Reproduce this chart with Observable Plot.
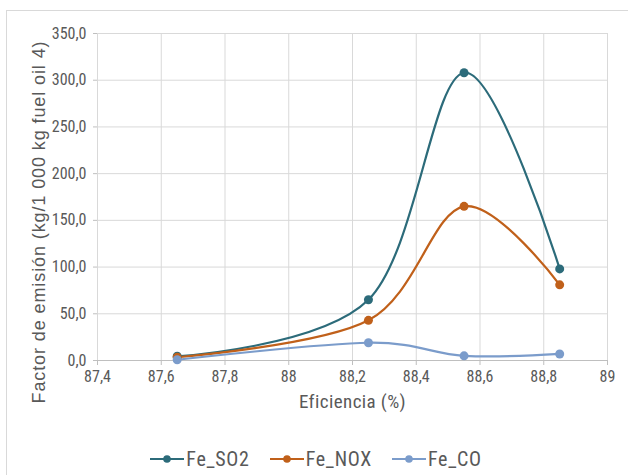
<!DOCTYPE html>
<html><head><meta charset="utf-8">
<script src="https://cdn.jsdelivr.net/npm/d3@7"></script>
<script src="https://cdn.jsdelivr.net/npm/@observablehq/plot@0.6"></script>
<style>
body{margin:0;background:#fff;overflow:hidden;width:628px;height:475px;position:relative;}
#frame{position:absolute;left:6px;top:10px;width:700px;height:600px;border:1px solid #d9d9d9;box-sizing:border-box;}
#chart{position:absolute;left:0;top:0;}
#legend{position:absolute;top:447px;left:2px;width:628px;display:flex;justify-content:center;gap:20px;
  font-family:"Liberation Sans Narrow","Roboto Condensed","Arial Narrow",Roboto,sans-serif;font-size:20px;letter-spacing:0.7px;color:#595959;}
.item{display:flex;align-items:center;gap:2px;}
</style></head>
<body>
<div id="frame"></div>
<div id="chart"></div>
<div id="legend"></div>
<script>
const eficiencia = [87.65, 88.25, 88.55, 88.85];
const feSO2 = [4.5, 65, 308, 98];
const feNOX = [3.5, 43, 165, 81];
const feCO  = [0.8, 19, 5, 7];
const seriesNames = ["Fe_SO2", "Fe_NOX", "Fe_CO"];
const seriesColors = ["#2c6b7a", "#c0601a", "#7b9ccb"];
const xTicks = [87.4, 87.6, 87.8, 88, 88.2, 88.4, 88.6, 88.8, 89];
const yTicks = [0, 50, 100, 150, 200, 250, 300, 350];
const yLabel = "Factor de emisión (kg/1 000 kg fuel oil 4)";
const xLabel = "Eficiencia (%)";

const seriesValues = [feSO2, feNOX, feCO];
const data = [];
seriesNames.forEach((s, i) => eficiencia.forEach((x, j) => data.push({series: s, x, y: seriesValues[i][j]})));

const narrow = '"Liberation Sans Narrow","Roboto Condensed","Arial Narrow",Roboto,sans-serif';

const chart = Plot.plot({
  width: 628, height: 425,
  marginLeft: 97, marginRight: 21, marginTop: 33, marginBottom: 65,
  style: {fontFamily: narrow, fontSize: "16px", color: "#595959", background: "transparent"},
  x: {domain: [87.4, 89]},
  y: {domain: [0, 350]},
  color: {domain: seriesNames, range: seriesColors},
  marks: [
    Plot.gridX(xTicks, {stroke: "#d9d9d9", strokeOpacity: 1}),
    Plot.gridY(yTicks, {stroke: "#d9d9d9", strokeOpacity: 1}),
    Plot.ruleY([0], {stroke: "#bfbfbf"}),
    Plot.axisX({ticks: xTicks, tickSize: 5, tickPadding: 5, stroke: "#bfbfbf",
      tickFormat: d => String(+d.toFixed(1)).replace(".", ","), label: null}),
    Plot.axisY({ticks: yTicks, tickSize: 4, tickPadding: 7, stroke: "#bfbfbf",
      tickFormat: d => d.toFixed(1).replace(".", ","), label: null}),
    Plot.text([xLabel], {frameAnchor: "bottom", dy: 47, fontSize: 19, fill: "#595959"}),
    Plot.text([yLabel], {frameAnchor: "left", textAnchor: "middle", rotate: -90, dx: -58, dy: 25, fontSize: 18,
      fontFamily: '"Liberation Sans",Arial,sans-serif', fill: "#595959"}),
    Plot.line(data, {x: "x", y: "y", stroke: "series", z: "series", curve: "cardinal", tension: 0, strokeWidth: 2.2}),
    Plot.dot(data, {x: "x", y: "y", fill: "series", r: 4.5})
  ]
});
chart.querySelectorAll("text").forEach(t => {
  if (t.textContent === yLabel) t.style.letterSpacing = "0.9px";
  if (t.textContent === xLabel) t.style.letterSpacing = "0.4px";
});
document.getElementById("chart").appendChild(chart);

const legend = document.getElementById("legend");
seriesNames.forEach((s, i) => {
  const item = document.createElement("div");
  item.className = "item";
  item.innerHTML = `<svg width="34" height="12"><line x1="0" x2="34" y1="6" y2="6" stroke="${seriesColors[i]}" stroke-width="2.2"/><circle cx="17" cy="6" r="3.8" fill="${seriesColors[i]}"/></svg><span>${s}</span>`;
  legend.appendChild(item);
});
</script>
</body></html>
